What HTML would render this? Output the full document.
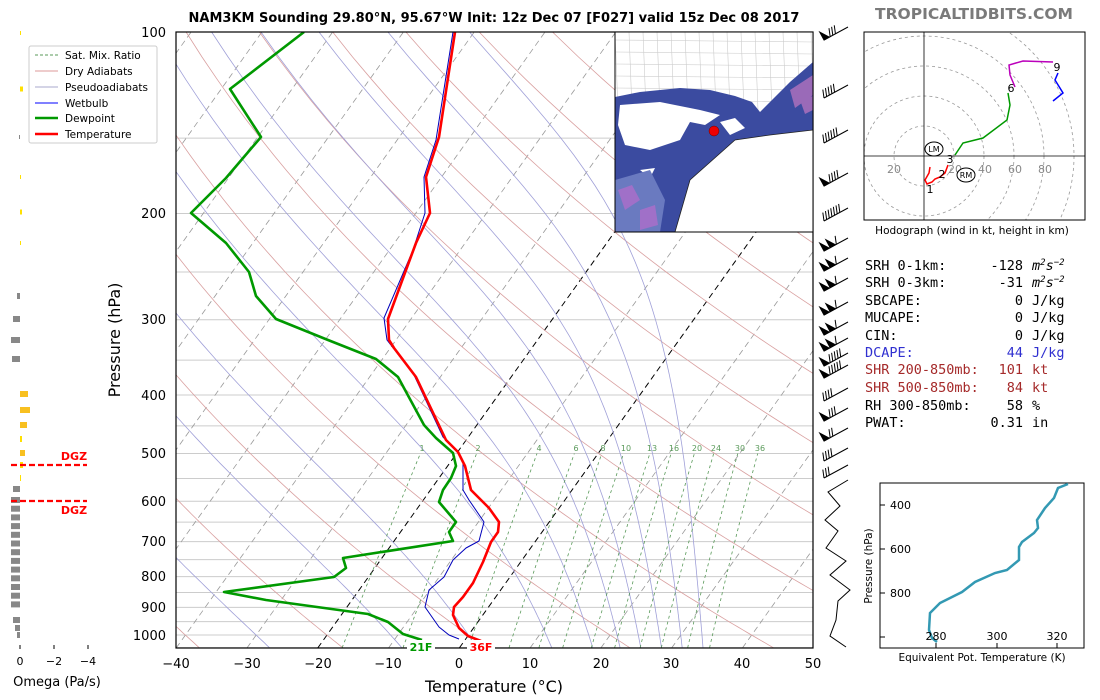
<!DOCTYPE html>
<html><head><meta charset="utf-8"><style>
body{margin:0;background:#fff;width:1100px;height:700px;overflow:hidden;font-family:"Liberation Sans","DejaVu Sans",sans-serif}
svg{position:absolute;left:0;top:0}
.m{font-family:"DejaVu Sans Mono","Liberation Mono",monospace;font-size:13.5px}
.t{font-family:"DejaVu Sans","Liberation Sans",sans-serif}
</style></head><body>
<svg id="s" width="1100" height="700" xmlns="http://www.w3.org/2000/svg">
<defs><clipPath id="cp"><rect x="176" y="32" width="637" height="616"/></clipPath>
<clipPath id="mc"><rect x="615" y="32" width="198" height="200"/></clipPath>
<clipPath id="hc"><rect x="864" y="32" width="221" height="188"/></clipPath></defs>
<g id="bg" clip-path="url(#cp)"></g>
<g clip-path="url(#cp)" fill="none" stroke-linejoin="round">
<polyline stroke="#00b" stroke-width="1" points="453,32 436,140 424,177 425,213 413,250 384,318 387,340 414,375 443,437 458,453 463,463 463,490 469,500 484,522 479,541 466,548 453,560 444,577 429,590 425,607 439,627 449,635 459,639"/>
<polyline stroke="#f00" stroke-width="2.6" points="455,32 439,137 426,177 430,213 416,243 406,270 388,319 389,340 394,348 416,377 446,440 458,452 465,466 471,490 489,508 499,522 498,532 491,542 483,562 473,583 463,597 454,607 453,615 459,628 468,636 481,641"/>
<polyline stroke="#090" stroke-width="2.6" points="304,32 230,89 261,137 226,178 191,213 226,243 249,272 256,296 276,319 328,340 376,359 398,377 424,425 436,438 453,453 456,466 451,478 443,490 439,502 456,522 449,532 453,541 343,558 346,568 334,577 224,592 266,600 368,614 388,622 403,634 422,640"/>
</g>
<rect x="176" y="32" width="637" height="616" fill="none" stroke="#000" stroke-width="1.2"/>
<!-- map inset -->
<g clip-path="url(#mc)">
<rect x="615" y="32" width="198" height="200" fill="#fff"/>
<g stroke="#ccc" stroke-width="0.6" id="cty"></g>
<path d="M615,97 L640,92 L680,88 L710,90 L735,96 L752,102 L760,112 L790,82 L813,62 L813,232 L615,232Z" fill="#3b4ba0"/>
<path d="M790,90 L813,75 L813,95 L795,108 Z M800,100 L813,96 L813,110 L805,114Z" fill="#9a6ab8"/>
<path d="M620,105 L660,102 L700,110 L720,115 L705,125 L690,122 L680,140 L650,150 L625,145 L618,125Z" fill="#fff"/>
<path d="M720,122 L735,118 L745,128 L730,135Z M640,170 L655,168 L650,178 Z" fill="#fff"/>
<path d="M675,232 L690,180 L735,140 L770,135 L813,130 L813,232Z" fill="#fff"/>
<path d="M615,180 L650,170 L665,200 L660,232 L615,232Z" fill="#6a7ac0"/>
<path d="M618,190 L632,185 L640,200 L625,210Z M640,210 L655,205 L658,225 L640,230Z" fill="#a070c8"/>
<path d="M675,232 L690,180 L735,140 L770,135 L813,130" fill="none" stroke="#222" stroke-width="0.8"/>
<circle cx="714" cy="131" r="5" fill="#e00" stroke="#600" stroke-width="0.5"/>
</g>
<rect x="615" y="32" width="198" height="200" fill="none" stroke="#000" stroke-width="1"/>
<g id="barbs" stroke="#000" fill="#000" stroke-width="1"></g>
<polyline fill="none" stroke="#000" stroke-width="1" points="848,480 828,492 840,506 825,520 838,531 826,548 846,561 830,575 850,590 838,601 836,620 830,636 846,647"/>
<!-- title -->
<text x="494" y="22" font-size="13" font-weight="bold" text-anchor="middle" class="t">NAM3KM Sounding 29.80°N, 95.67°W Init: 12z Dec 07 [F027] valid 15z Dec 08 2017</text>
<text x="974" y="19" font-size="15.5" font-weight="bold" fill="#7a7a7a" text-anchor="middle" class="t">TROPICALTIDBITS.COM</text>
<g font-size="13" text-anchor="end" class="t">
<text x="166" y="37">100</text><text x="166" y="218">200</text><text x="166" y="324">300</text><text x="166" y="400">400</text><text x="166" y="458">500</text><text x="166" y="506">600</text><text x="166" y="546">700</text><text x="166" y="581">800</text><text x="166" y="612">900</text><text x="166" y="640">1000</text>
</g>
<text transform="translate(120,340) rotate(-90)" font-size="16" text-anchor="middle" class="t">Pressure (hPa)</text>
<g font-size="13" text-anchor="middle" class="t">
<text x="176" y="668">−40</text><text x="247" y="668">−30</text><text x="318" y="668">−20</text><text x="388" y="668">−10</text><text x="459" y="668">0</text><text x="530" y="668">10</text><text x="601" y="668">20</text><text x="671" y="668">30</text><text x="742" y="668">40</text><text x="813" y="668">50</text>
</g>
<text x="494" y="692" font-size="16" text-anchor="middle" class="t">Temperature (°C)</text>
<g font-size="8" fill="#5a9a5a" text-anchor="middle" class="t">
<text x="422" y="451">1</text><text x="478" y="451">2</text><text x="539" y="451">4</text><text x="576" y="451">6</text><text x="603" y="451">8</text><text x="626" y="451">10</text><text x="652" y="451">13</text><text x="674" y="451">16</text><text x="697" y="451">20</text><text x="716" y="451">24</text><text x="740" y="451">30</text><text x="760" y="451">36</text>
</g>
<rect x="407" y="640" width="28" height="13" fill="#fff"/><rect x="467" y="640" width="28" height="13" fill="#fff"/>
<text x="421" y="651" font-size="11" font-weight="bold" fill="#090" text-anchor="middle" class="t">21F</text>
<text x="481" y="651" font-size="11" font-weight="bold" fill="#f00" text-anchor="middle" class="t">36F</text>
<!-- legend -->
<rect x="29" y="46" width="128" height="97" fill="#fff" stroke="#ccc" rx="2"/>
<g font-size="10.5" class="t">
<line x1="35" y1="55" x2="58" y2="55" stroke="#5a9a5a" stroke-dasharray="3,2"/><text x="65" y="59">Sat. Mix. Ratio</text>
<line x1="35" y1="71" x2="58" y2="71" stroke="#d99"/><text x="65" y="75">Dry Adiabats</text>
<line x1="35" y1="87" x2="58" y2="87" stroke="#aac"/><text x="65" y="91">Pseudoadiabats</text>
<line x1="35" y1="103" x2="58" y2="103" stroke="#00f"/><text x="65" y="107">Wetbulb</text>
<line x1="35" y1="118" x2="58" y2="118" stroke="#090" stroke-width="2.5"/><text x="65" y="122">Dewpoint</text>
<line x1="35" y1="134" x2="58" y2="134" stroke="#f00" stroke-width="2.5"/><text x="65" y="138">Temperature</text>
</g>
<!-- omega -->
<g id="om"></g>
<g stroke="#f00" stroke-width="2.2" stroke-dasharray="6,3"><line x1="11" y1="465" x2="87" y2="465"/><line x1="11" y1="501" x2="87" y2="501"/></g>
<text x="74" y="460" font-size="11" font-weight="bold" fill="#f00" text-anchor="middle" class="t">DGZ</text>
<text x="74" y="514" font-size="11" font-weight="bold" fill="#f00" text-anchor="middle" class="t">DGZ</text>
<g stroke="#000"><line x1="20" y1="645" x2="20" y2="649"/><line x1="54" y1="645" x2="54" y2="649"/><line x1="88" y1="645" x2="88" y2="649"/></g>
<g font-size="11" text-anchor="middle" class="t"><text x="20" y="665">0</text><text x="54" y="665">−2</text><text x="88" y="665">−4</text></g>
<text x="57" y="686" font-size="13" text-anchor="middle" class="t">Omega (Pa/s)</text>
<!-- hodograph -->
<rect x="864" y="32" width="221" height="188" fill="#fff"/>
<g id="hodo" clip-path="url(#hc)" fill="none" stroke="#999" stroke-dasharray="3,3" stroke-width="0.8"></g>
<line x1="924" y1="32" x2="924" y2="220" stroke="#000" stroke-width="0.8"/>
<line x1="864" y1="156" x2="1085" y2="156" stroke="#000" stroke-width="0.8"/>
<g font-size="11" fill="#888" text-anchor="middle" class="t"><text x="894" y="173">20</text><text x="955" y="173">20</text><text x="985" y="173">40</text><text x="1015" y="173">60</text><text x="1045" y="173">80</text></g>
<polyline fill="none" stroke="#f00" stroke-width="1.5" points="930,167 929,173 925,180 927,184 932,182 935,179 940,177 945,173 948,165"/>
<polyline fill="none" stroke="#090" stroke-width="1.5" points="955,155 963,143 983,138 1007,120 1010,105 1008,93"/>
<polyline fill="none" stroke="#b0b" stroke-width="1.5" points="1015,87 1010,75 1009,65 1023,61 1053,62"/>
<polyline fill="none" stroke="#00f" stroke-width="1.5" points="1058,73 1055,80 1063,93 1053,101"/>
<g font-size="11" class="t" text-anchor="middle"><text x="930" y="193">1</text><text x="942" y="178">2</text><text x="950" y="163">3</text><text x="1011" y="92">6</text><text x="1057" y="71">9</text></g>
<ellipse cx="934" cy="149" rx="9" ry="7" fill="#fff" stroke="#000"/><text x="934" y="152" font-size="8" text-anchor="middle" class="t">LM</text>
<ellipse cx="966" cy="175" rx="9" ry="7" fill="#fff" stroke="#000"/><text x="966" y="178" font-size="8" text-anchor="middle" class="t">RM</text>
<rect x="864" y="32" width="221" height="188" fill="none" stroke="#000" stroke-width="1"/>
<text x="972" y="234" font-size="10.5" text-anchor="middle" class="t">Hodograph (wind in kt, height in km)</text>
<!-- text block -->
<g class="m">
<text x="865" y="270">SRH 0-1km:</text><text x="1023" y="270" text-anchor="end">-128</text><text x="1032" y="270" font-style="italic">m<tspan font-size="9" dy="-5">2</tspan><tspan dy="5">s</tspan><tspan font-size="9" dy="-5">−2</tspan></text>
<text x="865" y="287">SRH 0-3km:</text><text x="1023" y="287" text-anchor="end">-31</text><text x="1032" y="287" font-style="italic">m<tspan font-size="9" dy="-5">2</tspan><tspan dy="5">s</tspan><tspan font-size="9" dy="-5">−2</tspan></text>
<text x="865" y="305">SBCAPE:</text><text x="1023" y="305" text-anchor="end">0</text><text x="1032" y="305">J/kg</text>
<text x="865" y="322">MUCAPE:</text><text x="1023" y="322" text-anchor="end">0</text><text x="1032" y="322">J/kg</text>
<text x="865" y="340">CIN:</text><text x="1023" y="340" text-anchor="end">0</text><text x="1032" y="340">J/kg</text>
<g fill="#3030d0"><text x="865" y="357">DCAPE:</text><text x="1023" y="357" text-anchor="end">44</text><text x="1032" y="357">J/kg</text></g>
<g fill="#a52a2a"><text x="865" y="374">SHR 200-850mb:</text><text x="1023" y="374" text-anchor="end">101</text><text x="1032" y="374">kt</text>
<text x="865" y="392">SHR 500-850mb:</text><text x="1023" y="392" text-anchor="end">84</text><text x="1032" y="392">kt</text></g>
<text x="865" y="410">RH 300-850mb:</text><text x="1023" y="410" text-anchor="end">58</text><text x="1032" y="410">%</text>
<text x="865" y="427">PWAT:</text><text x="1023" y="427" text-anchor="end">0.31</text><text x="1032" y="427">in</text>
</g>
<!-- theta-e -->
<rect x="880" y="483" width="204" height="165" fill="#fff" stroke="#000" stroke-width="1"/>
<polyline fill="none" stroke="#3399b3" stroke-width="2.5" points="1068,484 1058,488 1054,498 1045,508 1037,520 1038,528 1034,533 1022,542 1019,547 1019,560 1007,570 995,573 975,582 962,592 940,603 930,613 929,630 932,638 937,642"/>
<g stroke="#000"><line x1="880" y1="505" x2="885" y2="505"/><line x1="880" y1="549" x2="885" y2="549"/><line x1="880" y1="593" x2="885" y2="593"/><line x1="880" y1="637" x2="885" y2="637"/><line x1="936" y1="643" x2="936" y2="648"/><line x1="997" y1="643" x2="997" y2="648"/><line x1="1057" y1="643" x2="1057" y2="648"/></g>
<g font-size="11" class="t"><g text-anchor="start"><text x="890" y="509">400</text><text x="890" y="553">600</text><text x="890" y="597">800</text></g>
<g text-anchor="middle"><text x="936" y="640">280</text><text x="997" y="640">300</text><text x="1057" y="640">320</text></g></g>
<text transform="translate(872,566) rotate(-90)" font-size="10.5" text-anchor="middle" class="t">Pressure (hPa)</text>
<text x="982" y="661" font-size="10.5" text-anchor="middle" class="t">Equivalent Pot. Temperature (K)</text>
</svg>
<script>
var NS="http://www.w3.org/2000/svg";
function el(p,n,a){var e=document.createElementNS(NS,n);for(var k in a)e.setAttribute(k,a[k]);p.appendChild(e);return e;}
function Y(p){return 32+(Math.log10(p)-2)*603;}
function X(T,p){return 176+(T+40)*7.078+(648-Y(p))*0.714;}
var bg=document.getElementById('bg');
var ps=[];for(var p=1050;p>=100;p-=10)ps.push(p);
function line(f,st){var pts=ps.map(function(p){return X(f(p),p).toFixed(1)+','+Y(p).toFixed(1)}).join(' ');var a={points:pts,fill:'none'};for(var k in st)a[k]=st[k];el(bg,'polyline',a);}
for(var p=100;p<=1050;p+=50)el(bg,'line',{x1:176,x2:813,y1:Y(p),y2:Y(p),stroke:'#ccc','stroke-width':1});
for(var T=-120;T<=50;T+=10){var blk=(T==0||T==-20);el(bg,'line',{x1:X(T,1050),y1:648,x2:X(T,100),y2:32,stroke:blk?'#000':'#999','stroke-width':blk?1:0.8,'stroke-dasharray':'6,4'});}
for(var t0=-40;t0<=200;t0+=20){(function(th){line(function(p){return th*Math.pow(p/1000,0.286)-273.15},{stroke:'#d9a0a0','stroke-width':0.8});})(t0+273.15);}
function es(Tc){return 6.112*Math.exp(17.67*Tc/(Tc+243.5));}
[-30,-11,0,11,17,21,24,27,30,33].forEach(function(t0){
 var res={};var T=t0+273.15;res[1000]=T;
 function step(p0,p1){var n=10,dp=(p1-p0)/n,Tk=T;for(var i=0;i<n;i++){var p=p0+i*dp;var e=es(Tk-273.15);var rs=0.622*e/(p-e);var g=(287*Tk+2.5e6*rs)/(p*(1004+2.5e6*2.5e6*rs*0.622/(287*Tk*Tk)));Tk+=g*dp;}T=Tk;}
 for(var p=1000;p<1050;p+=10){step(p,p+10);res[p+10]=T;}
 T=t0+273.15;for(var p=1000;p>100;p-=10){step(p,p-10);res[p-10]=T;}
 line(function(p){return res[p]-273.15},{stroke:'#a0a0d8','stroke-width':0.8});
});
[1,2,4,6,8,10,13,16,20,24,30,36].forEach(function(w){
 var pts=[];for(var p=1050;p>=500;p-=10){var e=p*w/(622+w);var l=Math.log(e/6.112);var td=243.5*l/(17.67-l);pts.push(X(td,p).toFixed(1)+','+Y(p).toFixed(1));}
 el(bg,'polyline',{points:pts.join(' '),fill:'none',stroke:'#5a9a5a','stroke-width':0.8,'stroke-dasharray':'3,3'});
});
var c=document.getElementById('cty');
for(var x=615;x<813;x+=14)el(c,'line',{x1:x,y1:32,x2:x+3,y2:110});
for(var y=40;y<110;y+=12)el(c,'line',{x1:615,y1:y,x2:813,y2:y+2});
var h=document.getElementById('hodo');
[30,60,90,120,150].forEach(function(r){el(h,'circle',{cx:924,cy:156,r:r});});
var om=document.getElementById('om');
function bar(y,x0,x1,col,hh){el(om,'rect',{x:Math.min(x0,x1),y:y-(hh||6)/2,width:Math.abs(x1-x0),height:hh||6,fill:col});}
bar(33,20,21,'#ffe000',4);bar(89,20,23,'#ffe000',5);bar(137,19,20,'#888',4);bar(177,20,21,'#ffe000',4);bar(212,20,22,'#ffe000',5);bar(243,20,21,'#ffe000',4);
bar(296,17,20,'#888');bar(319,13,20,'#888');bar(340,11,20,'#888');bar(359,12,20,'#888');
bar(394,20,28,'#f8c020');bar(410,20,30,'#f8c020');bar(425,20,27,'#f8c020');bar(439,20,22,'#ffe000');bar(453,20,25,'#f8c020');bar(465,20,23,'#ffe000');bar(478,20,21,'#ffe000');
bar(489,13,20,'#888');for(var y=500;y<=612;y+=8.7)bar(y,11,20,'#888');bar(620,13,20,'#888');bar(628,15,20,'#888');bar(635,17,20,'#888');
var b=document.getElementById('barbs');
function barb(y,nf,nl){var x0=824,y0=y+8,x1=848,y1=y-5;el(b,'line',{x1:x0,y1:y0,x2:x1,y2:y1});
 var ux=24/27.3,uy=-13/27.3;var pos=0;
 for(var i=0;i<nf;i++){var ax=x0+ux*pos,ay=y0+uy*pos,bx=x0+ux*(pos+6),by=y0+uy*(pos+6);el(b,'polygon',{points:ax+','+ay+' '+bx+','+by+' '+(ax+uy*9)+','+(ay-ux*9)});pos+=7;}
 for(var i=0;i<nl;i++){var ax=x0+ux*pos,ay=y0+uy*pos;el(b,'line',{x1:ax,y1:ay,x2:ax+uy*8+ux*3,y2:ay-ux*8+uy*3});pos+=3;}}
[[32,1,3],[90,0,5],[135,0,6],[178,1,4],[213,0,7],[243,2,1],[263,2,1],[283,2,1],[307,2,1],[327,2,1],[343,2,1],[358,1,5],[370,1,5],[393,0,4],[413,1,3],[433,1,2],[453,0,4],[470,0,3]].forEach(function(a){barb(a[0],a[1],a[2]);});
</script>
</body></html>
